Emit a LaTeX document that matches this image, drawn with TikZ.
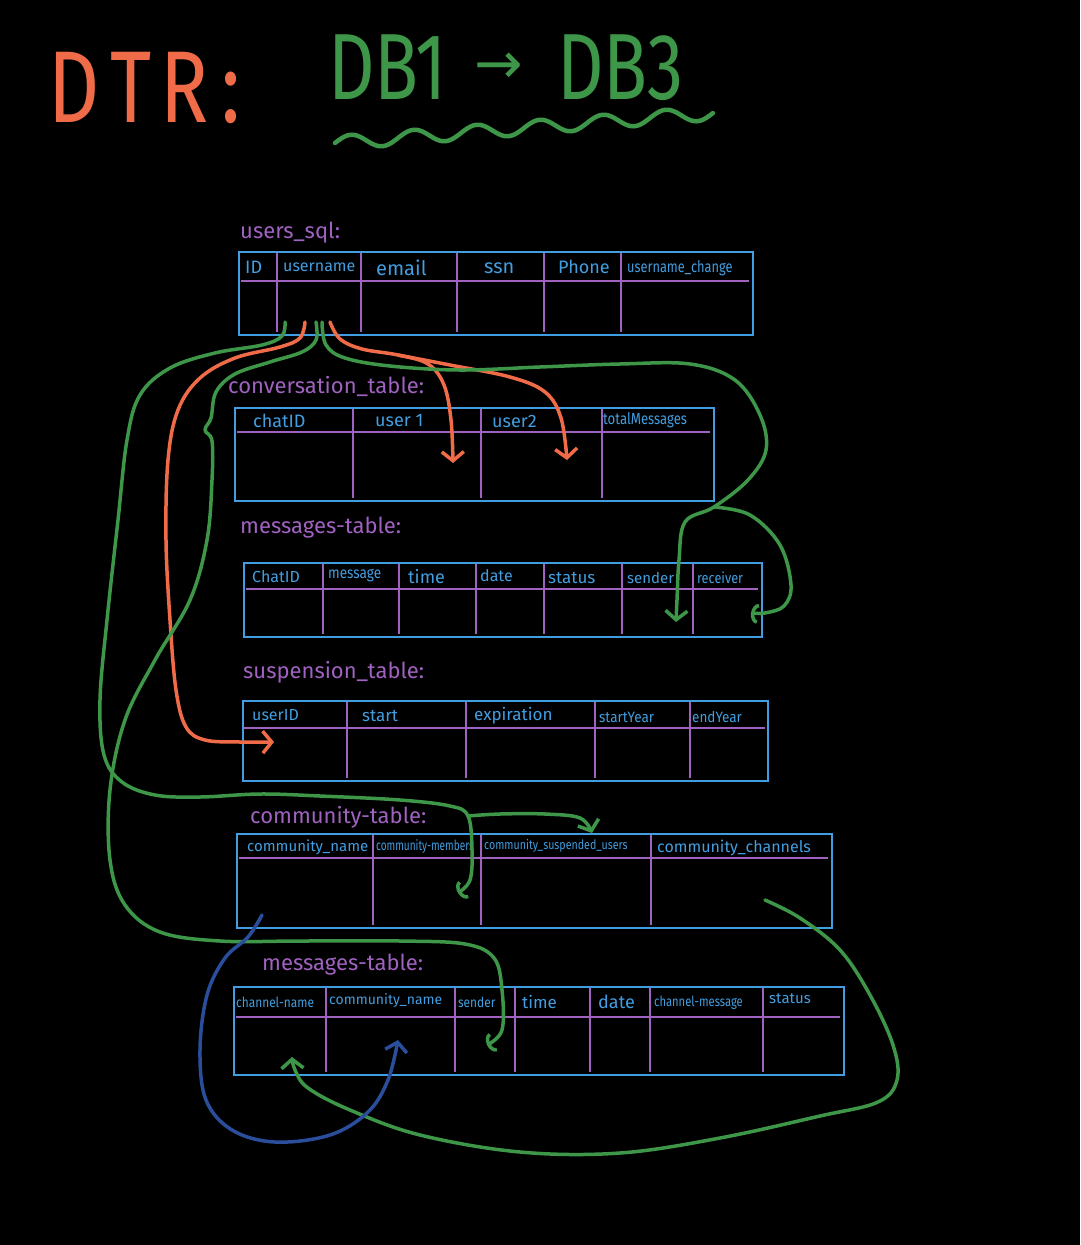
\documentclass[tikz,border=0pt]{standalone}
\usepackage{fontspec}
\setmainfont{Fira Sans}
\newfontfamily\arrowfont{DejaVu Sans}
\usetikzlibrary{arrows.meta}
\definecolor{ora}{RGB}{240,108,72}
\definecolor{grn}{RGB}{62,150,72}
\definecolor{tblue}{RGB}{66,158,224}
\definecolor{purp}{RGB}{160,98,192}
\definecolor{dblue}{RGB}{42,78,156}
\tikzset{
  tbl/.style={draw=tblue, line width=2pt, inner sep=0pt, anchor=north west},
  divl/.style={draw=purp, line width=1.8pt},
  hdr/.style={text=tblue, font=\fontsize{#1}{#1}\selectfont, anchor=west, inner sep=0pt},
  hdr/.default=16,
  lbl/.style={text=purp, font=\fontsize{22}{22}\selectfont, anchor=base west, inner sep=0pt},
  con/.style={line width=3.5pt, line cap=round, line join=round},
  vtip/.style={-{Straight Barb[length=9pt,width=22pt]}},
  ctip/.style={-{Arc Barb[length=7pt,width=20pt]}}
}
\begin{document}
\begin{tikzpicture}[x=1pt,y=-1pt]
\fill[black] (0,0) rectangle (1080,1245);
\useasboundingbox (0,0) rectangle (1080,1245);

% ---------- title ----------
\node[anchor=base west, text=ora, font=\fontsize{102}{102}\selectfont, xscale=0.78, inner sep=0pt] (dtr) at (48,122) {D\hspace{14pt}T\hspace{12pt}R\hspace{16pt}:};
\node[anchor=base west, text=grn, font=\fontsize{94}{94}\selectfont, xscale=0.77, inner sep=0pt] (db1) at (328,99) {DB1};
\node[anchor=base west, text=grn, font=\arrowfont\fontsize{58}{58}\selectfont, inner sep=0pt] (arr) at (474,83) {→};
\node[anchor=base west, text=grn, font=\fontsize{94}{94}\selectfont, xscale=0.77, inner sep=0pt] (db3) at (557,99) {DB3};
\draw[grn, line width=4.5pt, line cap=round, line join=round] plot[smooth, domain=0:1, samples=121] ({335+378*\x}, {143-30*\x - 7*sin(6*360*\x)});

% ---------- users_sql ----------
\node[lbl] (lusers) at (240,238) {users\_sql:};
\node[tbl, minimum width=514pt, minimum height=83pt] (users) at (238,251) {};
\draw[divl] (241,281) -- (749,281);
\foreach \x in {277,361,457,544,621} \draw[divl] (\x,253) -- (\x,332);
\node[hdr=18] (u1) at (245,267) {ID};
\node[hdr=16] (u2) at (283,267) {username};
\node[hdr=20] (u3) at (376,268) {email};
\node[hdr=20] (u4) at (484,268) {ssn};
\node[hdr=18] (u5) at (558,267) {Phone};
\node[hdr=16, xscale=0.8] (u6) at (627,268) {username\_change};

% ---------- conversation_table ----------
\node[lbl] (lconv) at (228,393) {conversation\_table:};
\node[tbl, minimum width=479pt, minimum height=93pt] (conv) at (234,407) {};
\draw[divl] (237,432) -- (710,432);
\foreach \x in {353,481,602} \draw[divl] (\x,409) -- (\x,498);
\node[hdr=18] (c1) at (253,421) {chatID};
\node[hdr=18] (c2) at (375,421) {user 1};
\node[hdr=18] (c3) at (492,421) {user2};
\node[hdr=16, xscale=0.82] (c4) at (603,420) {totalMessages};

% ---------- messages-table ----------
\node[lbl] (lmsg) at (240,533) {messages-table:};
\node[tbl, minimum width=518pt, minimum height=74pt] (msgs) at (243,562) {};
\draw[divl] (246,589) -- (758,589);
\foreach \x in {323,399,476,544,622,693} \draw[divl] (\x,564) -- (\x,634);
\node[hdr=16] (m1) at (252,577) {ChatID};
\node[hdr=16, xscale=0.85] (m2) at (328,576) {message};
\node[hdr=18] (m3) at (408,577) {time};
\node[hdr=16] (m4) at (480,576) {date};
\node[hdr=17] (m5) at (548,578) {status};
\node[hdr=15] (m6) at (627,578) {sender};
\node[hdr=15, xscale=0.85] (m7) at (697,578) {receiver};

% ---------- suspension_table ----------
\node[lbl] (lsusp) at (243,678) {suspension\_table:};
\node[tbl, minimum width=525pt, minimum height=80pt] (susp) at (242,700) {};
\draw[divl] (244,728) -- (765,728);
\foreach \x in {347,466,595,690} \draw[divl] (\x,702) -- (\x,778);
\node[hdr=16] (s1) at (252,715) {userID};
\node[hdr=17] (s2) at (362,716) {start};
\node[hdr=17] (s3) at (474,716) {expiration};
\node[hdr=15, xscale=0.9] (s4) at (599,717) {startYear};
\node[hdr=15, xscale=0.9] (s5) at (692,717) {endYear};

% ---------- community-table ----------
\node[lbl] (lcomm) at (250,823) {community-table:};
\node[tbl, minimum width=595pt, minimum height=94pt] (comm) at (236,833) {};
\draw[divl] (239,858) -- (828,858);
\foreach \x in {373,481,651} \draw[divl] (\x,835) -- (\x,925);
\node[hdr=15] (k1) at (247,847) {community\_name};
\node[hdr=14, xscale=0.72] (k2) at (376,847) {community-members};
\node[hdr=13, xscale=0.82] (k3) at (484,846) {community\_suspended\_users};
\node[hdr=16] (k4) at (657,848) {community\_channels};

% ---------- messages-table (2) ----------
\node[lbl] (lmsg2) at (262,970) {messages-table:};
\node[tbl, minimum width=610pt, minimum height=88pt] (msgs2) at (233,986) {};
\draw[divl] (236,1017) -- (840,1017);
\foreach \x in {326,455,515,590,650,763} \draw[divl] (\x,988) -- (\x,1072);
\node[hdr=14, xscale=0.85] (n1) at (236,1002) {channel-name};
\node[hdr=14] (n2) at (329,1001) {community\_name};
\node[hdr=14, xscale=0.85] (n3) at (458,1002) {sender};
\node[hdr=17] (n4) at (522,1002) {time};
\node[hdr=18] (n5) at (598,1002) {date};
\node[hdr=14, xscale=0.8] (n6) at (654,1003) {channel-message};
\node[hdr=15] (n7) at (769,999) {status};

% ---------- connector end points ----------
\coordinate (uo1) at (305,322);
\coordinate (uo2) at (330,322);
\coordinate (ug1) at (285,322);
\coordinate (ug2) at (316,322);
\coordinate (ug3) at (322,322);
\coordinate (osplit) at (398,355);
\coordinate (gsplit) at (468,816);
\coordinate (g3split) at (714,507);
\coordinate (suspIn) at (274,742);
\coordinate (user1In) at (453,463);
\coordinate (user2In) at (567,460);
\coordinate (senderIn) at (676,622);
\coordinate (recvIn) at (751,613);
\coordinate (membIn) at (458,893);
\coordinate (suspuIn) at (592,833);
\coordinate (sender2In) at (487,1045);
\coordinate (chanOut) at (765,900);
\coordinate (chanIn) at (292,1057);
\coordinate (cnameOut) at (262,915);
\coordinate (cnameIn) at (398,1040);

% ---------- orange connectors ----------
\draw[con, ora, vtip] plot[smooth, tension=0.6] coordinates {(uo1) (300,338) (280,347) (235,358) (200,378) (178,410) (168,460) (166,540) (170,620) (176,690) (186,727) (205,740) (240,742) (suspIn)};
\draw[con, ora, vtip] plot[smooth, tension=0.6] coordinates {(uo2) (340,339) (362,349) (osplit) (428,364) (444,385) (451,420) (user1In)};
\draw[con, ora, vtip] plot[smooth, tension=0.6] coordinates {(osplit) (450,365) (510,377) (545,392) (561,418) (user2In)};

% ---------- green connectors ----------
\draw[con, grn, ctip] plot[smooth, tension=0.6] coordinates {(ug1) (282,336) (262,345) (215,353) (170,368) (140,395) (127,440) (118,520) (107,620) (100,700) (104,755) (122,782) (155,795) (200,797) (260,794) (320,796) (400,800) (450,806) (gsplit) (472,850) (470,880) (membIn)};
\draw[con, grn, vtip] plot[smooth, tension=0.6] coordinates {(gsplit) (500,814) (545,814) (580,818) (suspuIn)};
\draw[con, grn, ctip] plot[smooth, tension=0.6] coordinates {(ug2) (316,340) (302,352) (270,362) (235,374) (216,392) (211,418) (205,430) (212,441) (212,480) (207,540) (190,600) (155,660) (125,720) (110,790) (110,860) (125,905) (160,932) (220,941) (300,941) (400,941) (465,944) (494,958) (502,990) (502,1030) (sender2In)};
\draw[con, grn, vtip] plot[smooth, tension=0.6] coordinates {(ug3) (326,345) (345,358) (390,366) (460,370) (540,367) (620,364) (690,364) (735,380) (760,415) (766,450) (748,480) (g3split) (685,522) (679,560) (677,600) (senderIn)};
\draw[con, grn, ctip] plot[smooth, tension=0.6] coordinates {(g3split) (750,515) (780,545) (791,585) (784,606) (765,613) (recvIn)};
\draw[con, grn, vtip] plot[smooth, tension=0.6] coordinates {(chanOut) (800,918) (840,950) (870,995) (893,1045) (897,1080) (878,1102) (820,1116) (720,1138) (620,1153) (520,1152) (420,1135) (350,1110) (308,1088) (295,1070) (chanIn)};

% ---------- dark blue connector ----------
\draw[con, dblue, vtip] plot[smooth, tension=0.6] coordinates {(cnameOut) (248,937) (225,958) (207,995) (200,1050) (206,1100) (232,1130) (275,1142) (330,1135) (368,1112) (388,1080) (cnameIn)};
\end{tikzpicture}
\end{document}
